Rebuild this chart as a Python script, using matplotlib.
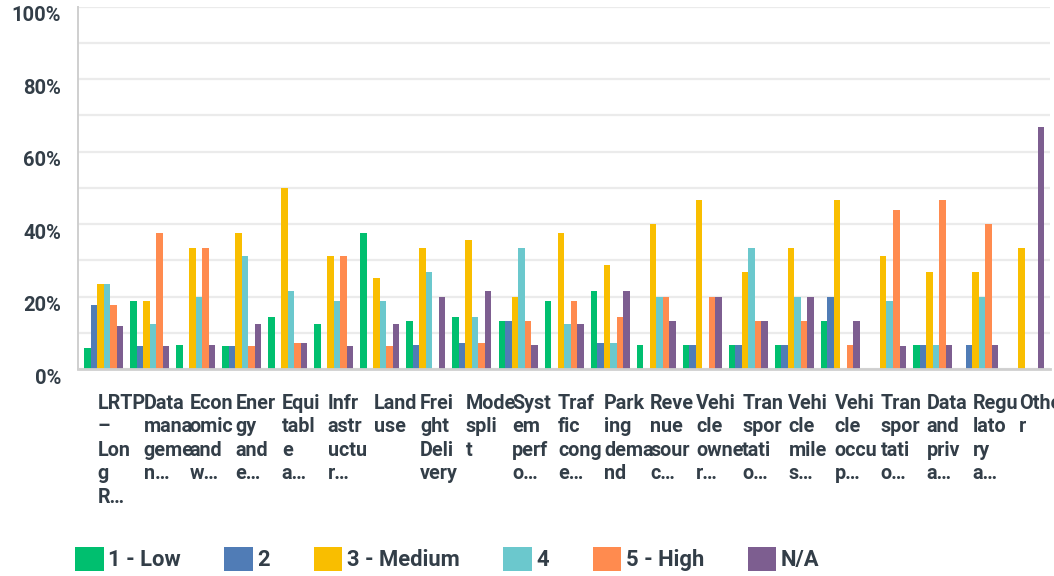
import matplotlib
matplotlib.use("Agg")
import matplotlib.pyplot as plt
import matplotlib.transforms as mtransforms
import numpy as np

categories = ["LRTP\n–\nLon\ng\nR…", "Data\nmana\ngeme\nn…", "Econ\nomic\nand\nw…",
              "Ener\ngy\nand\ne…", "Equi\ntabl\ne\na…", "Infr\nastr\nuctu\nr…",
              "Land\nuse", "Frei\nght\nDeli\nvery", "Mode\nspli\nt",
              "Syst\nem\nperf\no…", "Traf\nfic\ncong\ne…", "Park\ning\ndema\nnd",
              "Reve\nnue\nsour\nc…", "Vehi\ncle\nowne\nr…", "Tran\nspor\ntati\no…",
              "Vehi\ncle\nmile\ns…", "Vehi\ncle\noccu\np…", "Tran\nspor\ntati\no…",
              "Data\nand\npriv\na…", "Regu\nlato\nry\na…", "Othe\nr"]

series_names = ["1 - Low", "2", "3 - Medium", "4", "5 - High", "N/A"]

low = [5.88, 18.75, 6.67, 6.25, 14.29, 12.5, 37.5, 13.33, 14.29, 13.33, 18.75,
       21.43, 6.67, 6.67, 6.67, 6.67, 13.33, 0, 6.67, 0, 0]
two = [17.65, 6.25, 0, 6.25, 0, 0, 0, 6.67, 7.14, 13.33, 0, 7.14, 0, 6.67, 6.67,
       6.67, 20, 0, 6.67, 6.67, 0]
medium = [23.53, 18.75, 33.33, 37.5, 50, 31.25, 25, 33.33, 35.71, 20, 37.5, 28.57,
          40, 46.67, 26.67, 33.33, 46.67, 31.25, 26.67, 26.67, 33.33]
four = [23.53, 12.5, 20, 31.25, 21.43, 18.75, 18.75, 26.67, 14.29, 33.33, 12.5,
        7.14, 20, 0, 33.33, 20, 0, 18.75, 6.67, 20, 0]
high = [17.65, 37.5, 33.33, 6.25, 7.14, 31.25, 6.25, 0, 7.14, 13.33, 18.75, 14.29,
        20, 20, 13.33, 13.33, 6.67, 43.75, 46.67, 40, 0]
na = [11.76, 6.25, 6.67, 12.5, 7.14, 6.25, 12.5, 20, 21.43, 6.67, 12.5, 21.43,
      13.33, 20, 13.33, 20, 13.33, 6.25, 6.67, 6.67, 66.67]

yticks = [0, 20, 40, 60, 80, 100]
ytick_labels = ["0%", "20%", "40%", "60%", "80%", "100%"]

colors = ["#00BF6F", "#507CB6", "#F9BE00", "#6BC8CD", "#FF8B4F", "#7D5E90"]
text_color = "#333E48"
font = ["Roboto", "DejaVu Sans"]

fig = plt.figure(figsize=(10.54, 5.76), dpi=100)
ax = fig.add_axes([78 / 1054, 1 - 369 / 576, (1050 - 78) / 1054, (369 - 6.7) / 576])

x = np.arange(len(categories))
bw = 0.1412
all_series = [low, two, medium, four, high, na]
handles = []
for k, (vals, c, name) in enumerate(zip(all_series, colors, series_names)):
    h = ax.bar(x + (k - 2.5) * bw, vals, width=bw, color=c, label=name,
               linewidth=0, zorder=3)
    handles.append(h)

ax.set_xlim(-0.554, 20.55)
ax.set_ylim(0, 100)
ax.set_yticks(yticks)
ax.set_yticks(np.arange(10, 100, 20), minor=True)
ax.yaxis.grid(True, which="both", color="#EBEBEB", linewidth=1.6, zorder=0)
ax.set_yticklabels(ytick_labels, fontsize=14.5, fontweight="semibold",
                   color=text_color, family=font)
ax.tick_params(axis="y", which="both", length=0, pad=12)
offset = mtransforms.ScaledTranslation(0, -7 / 100, fig.dpi_scale_trans)
for lbl in ax.get_yticklabels():
    lbl.set_transform(lbl.get_transform() + offset)
ax.set_xticks([])

for s in ["top", "right"]:
    ax.spines[s].set_visible(False)
ax.spines["left"].set_color("#CFCFCF")
ax.spines["left"].set_linewidth(1.4)
ax.spines["bottom"].set_color("#CFCFCF")
ax.spines["bottom"].set_linewidth(2.0)
ax.spines["bottom"].set_zorder(4)

trans = mtransforms.blended_transform_factory(ax.transData, ax.transAxes)
for i, lab in enumerate(categories):
    ax.text(i - 0.13, -0.068, lab, transform=trans, ha="left", va="top",
            fontsize=14.2, fontweight="semibold", color=text_color, family=font,
            linespacing=1.3, clip_on=False)

leg = fig.legend(handles=handles, labels=series_names, loc="center left",
                 bbox_to_anchor=(75 / 1054, 1 - 559 / 576), ncol=6, frameon=False,
                 prop={"family": font, "size": 15.8, "weight": "semibold"},
                 handlelength=1.3, handleheight=1.3, handletextpad=0.2,
                 columnspacing=2.0, borderpad=0, borderaxespad=0)
for t in leg.get_texts():
    t.set_color(text_color)

fig.savefig("out.png", dpi=100)
